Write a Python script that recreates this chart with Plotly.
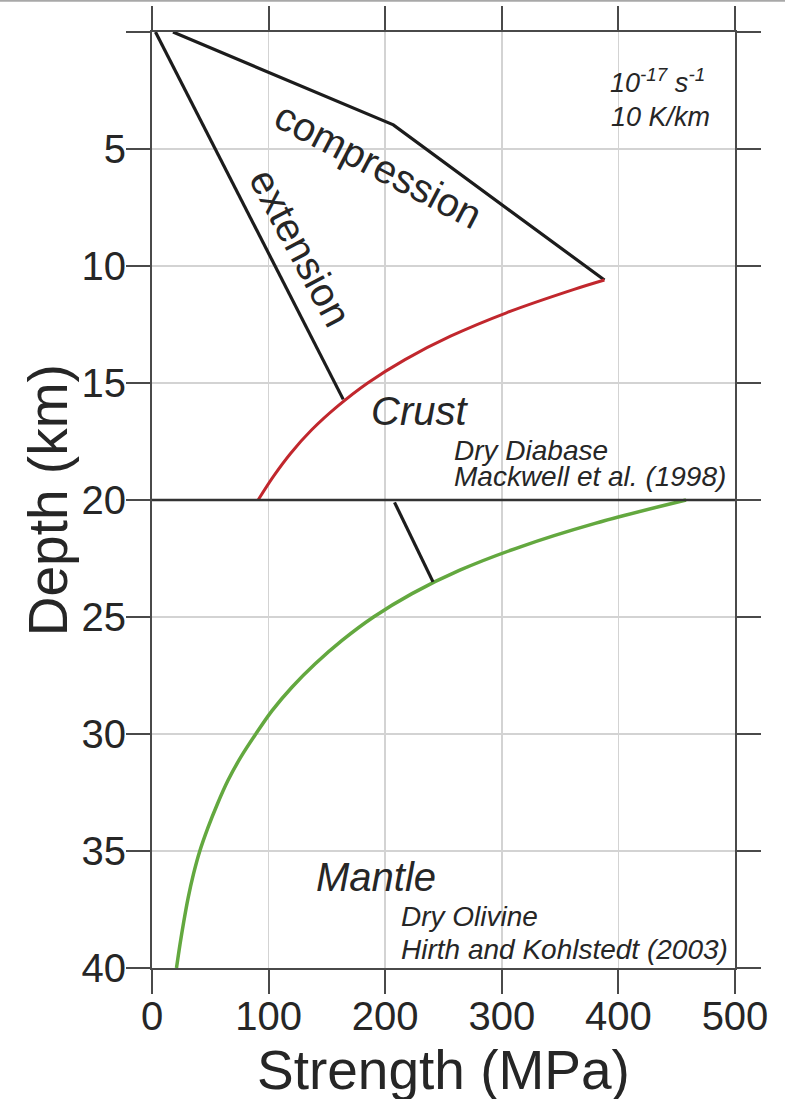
import plotly.graph_objects as go

# ---------------- data ----------------
compression_strength = [18, 207, 388]
compression_depth = [0, 3.97, 10.6]

extension_strength = [3, 164]
extension_depth = [0, 15.7]

crust_depth = [10.6, 11, 12, 13, 14, 15, 16, 17, 18, 19, 20]
crust_strength = [388, 362, 304, 256, 217, 185, 159, 137, 119, 104, 91]

mantle_depth = [20, 21, 22, 23, 24, 25, 26, 27, 28, 29, 30,
                31, 32, 33, 34, 35, 36, 37, 38, 39, 40]
mantle_strength = [458, 380, 316, 264, 223, 190, 163, 140, 120, 103, 89,
                   76, 65, 56, 48, 41, 35.5, 31, 27.3, 24, 21]

mantle_brittle_strength = [208, 241]
mantle_brittle_depth = [20.1, 23.5]

moho_depth = 20

x_ticks = [0, 100, 200, 300, 400, 500]
y_ticks = [0, 5, 10, 15, 20, 25, 30, 35, 40]
y_ticktext = ["", "5", "10", "15", "20", "25", "30", "35", "40"]

FONT = "Liberation Sans, Arial, Helvetica, sans-serif"
BLACK = "#1c1c1c"
RED = "#c1272d"
GREEN = "#63a83f"
AXIS = "#4a4a4a"
GRID = "#d3d3d3"
TEXT = "#262626"

fig = go.Figure()

fig.add_trace(go.Scatter(x=compression_strength, y=compression_depth, mode="lines",
                         line=dict(color=BLACK, width=3.2), hoverinfo="skip"))
fig.add_trace(go.Scatter(x=extension_strength, y=extension_depth, mode="lines",
                         line=dict(color=BLACK, width=3.2), hoverinfo="skip"))
fig.add_trace(go.Scatter(x=crust_strength, y=crust_depth, mode="lines",
                         line=dict(color=RED, width=3, shape="spline"), hoverinfo="skip"))
fig.add_trace(go.Scatter(x=mantle_strength, y=mantle_depth, mode="lines",
                         line=dict(color=GREEN, width=3.5, shape="spline"), hoverinfo="skip"))
fig.add_trace(go.Scatter(x=mantle_brittle_strength, y=mantle_brittle_depth, mode="lines",
                         line=dict(color=BLACK, width=3.2), hoverinfo="skip"))

# Moho line
fig.add_shape(type="line", xref="x", yref="y", x0=0, x1=500, y0=moho_depth, y1=moho_depth,
              line=dict(color="#333333", width=2.5), layer="above")
# thin border at top of image
fig.add_shape(type="line", xref="paper", yref="paper", x0=-0.3, x1=1.2, y0=1.0333, y1=1.0333,
              line=dict(color="#a8a8a8", width=2))

def ann(text, x, y, size, angle=0, xanchor="center", italic=False):
    if italic:
        text = "<i>" + text + "</i>"
    fig.add_annotation(text=text, x=x, y=y, xref="x", yref="y", showarrow=False,
                       textangle=angle, xanchor=xanchor, yanchor="middle",
                       font=dict(family=FONT, size=size, color=TEXT))

ann("compression", 194, 5.7, 40, angle=27.6)
ann("extension", 127, 9.2, 40, angle=62)
ann("10<sup>-17</sup> s<sup>-1</sup>", 391, 2.1, 27, xanchor="left", italic=True)
ann("10 K/km", 392, 3.63, 27, xanchor="left", italic=True)
ann("Crust", 229, 16.2, 40, italic=True)
ann("Dry Diabase", 257, 17.9, 28, xanchor="left", italic=True)
ann("Mackwell et al. (1998)", 257, 19.0, 28, xanchor="left", italic=True)
ann("Mantle", 192, 36.1, 40, italic=True)
ann("Dry Olivine", 212, 37.8, 28, xanchor="left", italic=True)
ann("Hirth and Kohlstedt (2003)", 212, 39.2, 28, xanchor="left", italic=True)

# axis titles
fig.add_annotation(text="Strength (MPa)", xref="paper", yref="paper", x=0.5, y=-0.109,
                   showarrow=False, xanchor="center", yanchor="middle",
                   font=dict(family=FONT, size=55, color=TEXT))
fig.add_annotation(text="Depth (km)", xref="paper", yref="paper", x=-0.178, y=0.5,
                   showarrow=False, textangle=-90, xanchor="center", yanchor="middle",
                   font=dict(family=FONT, size=55, color=TEXT))

fig.update_layout(
    template="none",
    width=785, height=1099,
    margin=dict(l=152, r=50, t=32, b=131, pad=0),
    paper_bgcolor="white", plot_bgcolor="white",
    showlegend=False,
    xaxis=dict(range=[0, 500], tickvals=x_ticks, ticks="outside", ticklen=24, tickwidth=2,
               tickcolor=AXIS, showline=True, linecolor=AXIS, linewidth=2, mirror="ticks",
               showgrid=True, gridcolor=GRID, gridwidth=1.5, zeroline=False,
               tickfont=dict(family=FONT, size=40, color=TEXT), automargin=False,
               ticklabelstandoff=-12, fixedrange=True),
    yaxis=dict(range=[40, 0], tickvals=y_ticks, ticktext=y_ticktext, ticks="outside",
               ticklen=24, tickwidth=2, tickcolor=AXIS, showline=True, linecolor=AXIS,
               linewidth=2, mirror="ticks", showgrid=True, gridcolor=GRID, gridwidth=1.5,
               zeroline=False, tickfont=dict(family=FONT, size=40, color=TEXT),
               ticklabelstandoff=-8, automargin=False, fixedrange=True),
)

fig.write_html("out.html",
               config={"displayModeBar": False, "staticPlot": True},
               post_script="document.body.style.margin='0';document.body.style.overflow='hidden';")
